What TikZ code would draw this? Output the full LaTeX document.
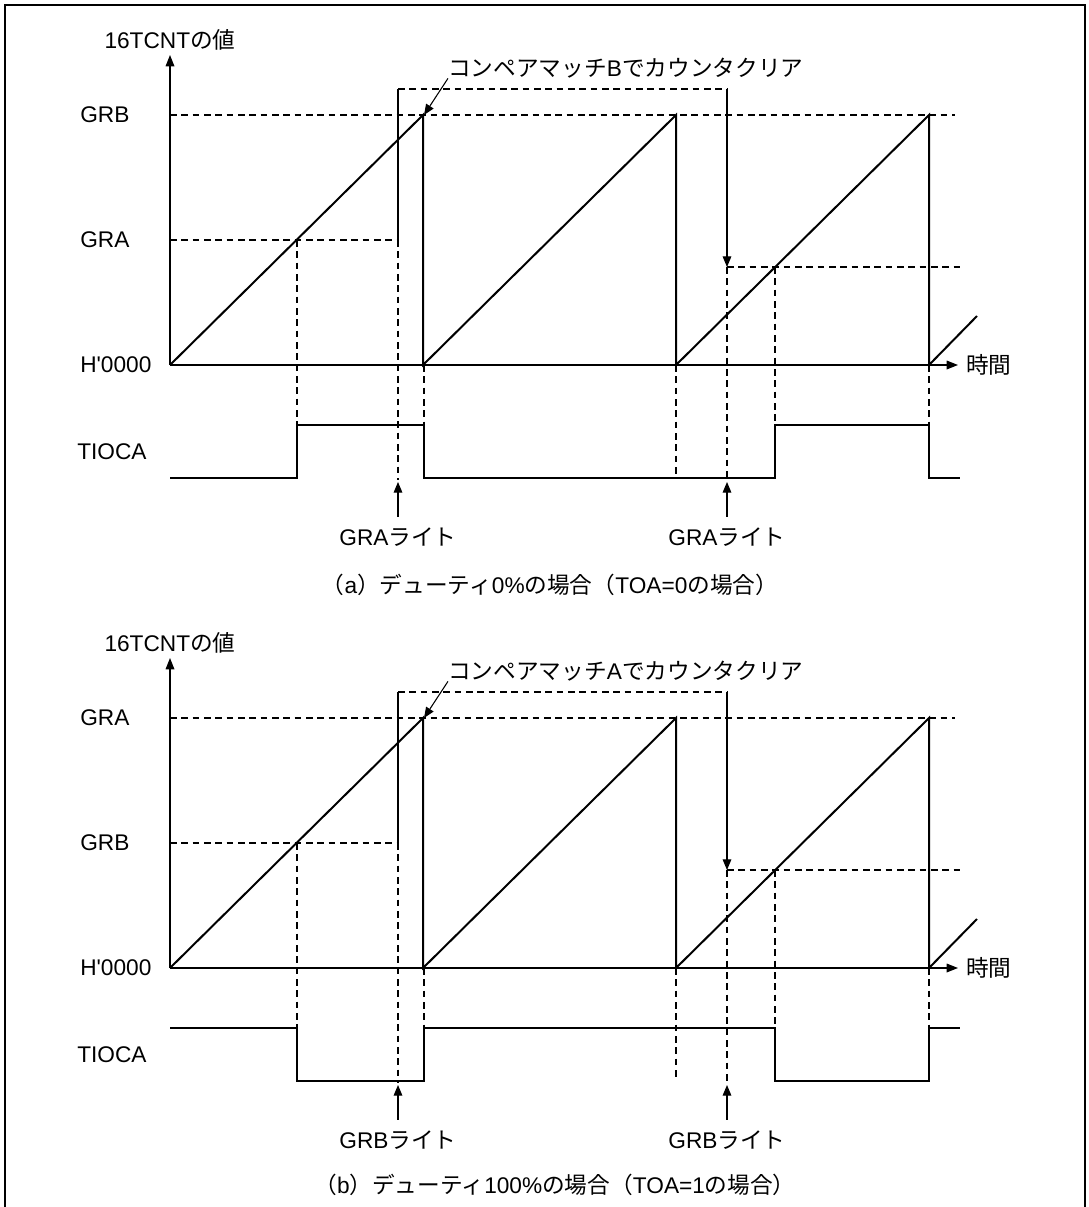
\documentclass[tikz,border=0pt]{standalone}
\usepackage{fontspec}
\setmainfont{Liberation Sans}[Ligatures=TeXOff]
\newfontfamily\jpfont{Noto Sans CJK JP}
\newcommand{\jp}[1]{{\jpfont #1}}
\usetikzlibrary{arrows.meta, positioning}

\begin{document}
\begin{tikzpicture}[
			x=0.75pt, y=-0.75pt,
			every node/.style={font=\fontsize{17pt}{20pt}\selectfont, inner sep=0pt},
			axis/.style={
				line width=0.9pt,
				-{Triangle[length=8.5pt,width=6.5pt]}
			},
			ramp/.style={line width=1.5pt, line join=miter},
			wave/.style={line width=1.8pt},
			guide/.style={line width=0.85pt, dash pattern=on 5pt off 3.5pt},
			marker/.style={
				line width=0.8pt,
				-{Triangle[length=8pt,width=6.5pt]}
			},
			levellabel/.style={anchor=west}
			]
			\useasboundingbox (0,0) rectangle (1089,1207);
			\clip (0,0) rectangle (1089,1207);
			
			% Frame
			\draw[line width=1.5pt] (5,1230) -- (5,5) -- (1085,5) -- (1085,1230);
			
			% Panel (a)
			\begin{scope}
				% Labels
				\node (a-ylab) at (170,40) {16TCNT\jp{の値}};
				\node[levellabel] (a-top) at (80,115) {GRB};
				\node[levellabel] (a-mid) at (80,240) {GRA};
				\node[levellabel] (a-zero) at (80,365) {H'0000};
				\node[levellabel] (a-tioca) at (77,452) {TIOCA};
				
				% Guides
				\draw[guide] (170,115) -- (955,115);
				\draw[guide] (170,240) -- (398,240);
				\draw[guide] (398,89) -- (727,89);
				\draw[guide] (727,267) -- (960,267);
				\draw[guide] (297,240) -- (297,425);
				\draw[guide] (398,240) -- (398,480);
				\draw[guide] (424,365) -- (424,425);
				\draw[guide] (676,365) -- (676,477);
				\draw[guide] (727,267) -- (727,480);
				\draw[guide] (775,267) -- (775,425);
				\draw[guide] (929,365) -- (929,425);
				\draw[line width=0.8pt] (398,240) -- (398,89);
				\draw[marker] (727,89) -- (727,267);
				
				% Axes
				\draw[axis] (170,365) -- (170,55);
				\draw[axis] (170,365) -- (958,365);
				\node[anchor=west] (a-time) at (966,365) {\jp{時間}};
				
				% Counter
				\draw[ramp] (170,365) -- (423,115) -- (423,365) -- (676,115) -- (676,365)
				-- (929,115) -- (929,365) -- (977,316);
				
				% TIOCA
				\draw[wave] (170,478) -- (297,478) -- (297,425) -- (424,425) -- (424,478)
				-- (775,478) -- (775,425) -- (929,425) -- (929,478) -- (960,478);
				
				% Notes
				\node[anchor=west] (a-cm) at (448,68) {\jp{コンペアマッチ}B\jp{でカウンタクリア}};
				\draw[marker] (a-cm.south west) -- (424,115);
				\node (a-wr1) at (398,537) {GRA\jp{ライト}};
				\node (a-wr2) at (727,537) {GRA\jp{ライト}};
				\draw[marker] ([yshift=8pt]a-wr1.north) -- (398,482);
				\draw[marker] ([yshift=8pt]a-wr2.north) -- (727,482);
				\node (a-cap) at (550,585) {\jp{（}a\jp{）デューティ}0\%\jp{の場合（}TOA=0\jp{の場合）}};
			\end{scope}
			
			% Panel (b)
			\begin{scope}[shift={(0,603)}]
				% Labels
				\node (b-ylab) at (170,40) {16TCNT\jp{の値}};
				\node[levellabel] (b-top) at (80,115) {GRA};
				\node[levellabel] (b-mid) at (80,240) {GRB};
				\node[levellabel] (b-zero) at (80,365) {H'0000};
				\node[levellabel] (b-tioca) at (77,452) {TIOCA};
				
				% Guides
				\draw[guide] (170,115) -- (955,115);
				\draw[guide] (170,240) -- (398,240);
				\draw[guide] (398,89) -- (727,89);
				\draw[guide] (727,267) -- (960,267);
				\draw[guide] (297,240) -- (297,425);
				\draw[guide] (398,240) -- (398,480);
				\draw[guide] (424,365) -- (424,425);
				\draw[guide] (676,365) -- (676,477);
				\draw[guide] (727,267) -- (727,480);
				\draw[guide] (775,267) -- (775,425);
				\draw[guide] (929,365) -- (929,425);
				\draw[line width=0.8pt] (398,240) -- (398,89);
				\draw[marker] (727,89) -- (727,267);
				
				% Axes
				\draw[axis] (170,365) -- (170,55);
				\draw[axis] (170,365) -- (958,365);
				\node[anchor=west] (b-time) at (966,365) {\jp{時間}};
				
				% Counter
				\draw[ramp] (170,365) -- (423,115) -- (423,365) -- (676,115) -- (676,365)
				-- (929,115) -- (929,365) -- (977,316);
				
				% TIOCA
				\draw[wave] (170,425) -- (297,425) -- (297,478) -- (424,478) -- (424,425)
				-- (775,425) -- (775,478) -- (929,478) -- (929,425) -- (960,425);
				
				% Notes
				\node[anchor=west] (b-cm) at (448,68) {\jp{コンペアマッチ}A\jp{でカウンタクリア}};
				\draw[marker] (b-cm.south west) -- (424,115);
				\node (b-wr1) at (398,537) {GRB\jp{ライト}};
				\node (b-wr2) at (727,537) {GRB\jp{ライト}};
				\draw[marker] ([yshift=8pt]b-wr1.north) -- (398,482);
				\draw[marker] ([yshift=8pt]b-wr2.north) -- (727,482);
				\node (b-cap) at (555,582) {\jp{（}b\jp{）デューティ}100\%\jp{の場合（}TOA=1\jp{の場合）}};
			\end{scope}
			
		\end{tikzpicture}
\end{document}
